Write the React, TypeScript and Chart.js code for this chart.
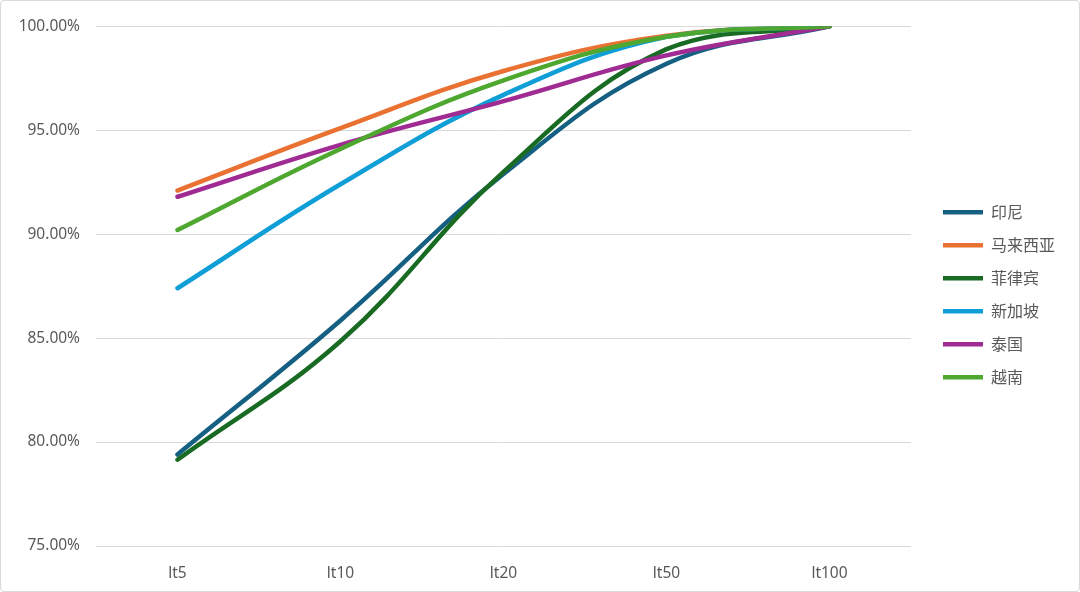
import React, { useEffect, useRef } from "react";
import { Chart, registerables } from "chart.js";

Chart.register(...registerables);

const categories = ["lt5", "lt10", "lt20", "lt50", "lt100"];
const seriesNames = ["印尼", "马来西亚", "菲律宾", "新加坡", "泰国", "越南"];
const indonesia = [79.4, 85.85, 92.9, 98.2, 100];
const malaysia = [92.1, 95.1, 97.85, 99.55, 100];
const philippines = [79.15, 84.85, 93.0, 98.9, 100];
const singapore = [87.4, 92.4, 96.7, 99.5, 100];
const thailand = [91.8, 94.3, 96.4, 98.6, 100];
const vietnam = [90.2, 94.1, 97.4, 99.5, 100];
const yTicks = [75, 80, 85, 90, 95, 100];

const colors = ["#156082", "#E97132", "#196B24", "#0F9ED5", "#A02B93", "#4EA72E"];
const seriesValues = [indonesia, malaysia, philippines, singapore, thailand, vietnam];

export default function App() {
  const ref = useRef<HTMLCanvasElement | null>(null);

  useEffect(() => {
    if (!ref.current) return;
    const chart = new Chart(ref.current, {
      type: "line",
      data: {
        labels: categories,
        datasets: seriesNames.map((name, i) => ({
          label: name,
          data: seriesValues[i],
          borderColor: colors[i],
          backgroundColor: colors[i],
          borderWidth: 4.5,
          borderCapStyle: "round" as const,
          borderJoinStyle: "round" as const,
          pointRadius: 0,
          pointHoverRadius: 0,
          tension: 0.4,
          fill: false,
          yAxisID: "y",
          order: seriesNames.length - i,
        })),
      },
      options: {
        responsive: false,
        animation: false,
        layout: { padding: { top: 22, left: 0, right: 14, bottom: 0 } },
        plugins: {
          tooltip: { enabled: false },
          legend: {
            position: "right",
            fullSize: false,
            title: {
              display: true,
              text: " ",
              padding: 2.5,
              font: { size: 10 },
            },
            labels: {
              usePointStyle: true,
              pointStyle: "line",
              pointStyleWidth: 40,
              padding: 17,
              color: "#595959",
              font: { family: "'Noto Sans CJK SC', 'Noto Sans', sans-serif", size: 16 },
              sort: (a: any, b: any) => a.datasetIndex - b.datasetIndex,
            },
          },
        },
        scales: {
          x: {
            offset: true,
            grid: { display: false },
            border: { display: false },
            ticks: {
              color: "#595959",
              padding: 10,
              font: { family: "'Noto Sans', sans-serif", size: 15.5 },
            },
            afterFit: (s: any) => {
              s.height = 45;
            },
          },
          y: {
            min: 75,
            max: 100,
            afterBuildTicks: (s: any) => {
              s.ticks = yTicks.map((v) => ({ value: v }));
            },
            grid: { color: "#d9d9d9", lineWidth: 1, drawTicks: false },
            border: { display: false },
            ticks: {
              color: "#595959",
              padding: 16,
              font: { family: "'Noto Sans', sans-serif", size: 15.5 },
              callback: (v: any) => Number(v).toFixed(2) + "%",
            },
            afterFit: (s: any) => {
              s.width = 95;
            },
          },
          y2: {
            position: "right",
            display: true,
            grid: { display: false },
            border: { display: false },
            ticks: { display: false },
            afterFit: (s: any) => {
              s.width = 15;
            },
          },
        },
      } as any,
    });
    return () => chart.destroy();
  }, []);

  return (
    <div
      style={{
        position: "fixed",
        left: 0,
        top: 0,
        width: 1080,
        height: 592,
        boxSizing: "border-box",
        border: "1px solid #d9d9d9",
        borderRadius: 4,
        background: "#fff",
        overflow: "hidden",
      }}
    >
      <canvas ref={ref} width={1078} height={590} style={{ display: "block" }} />
    </div>
  );
}
